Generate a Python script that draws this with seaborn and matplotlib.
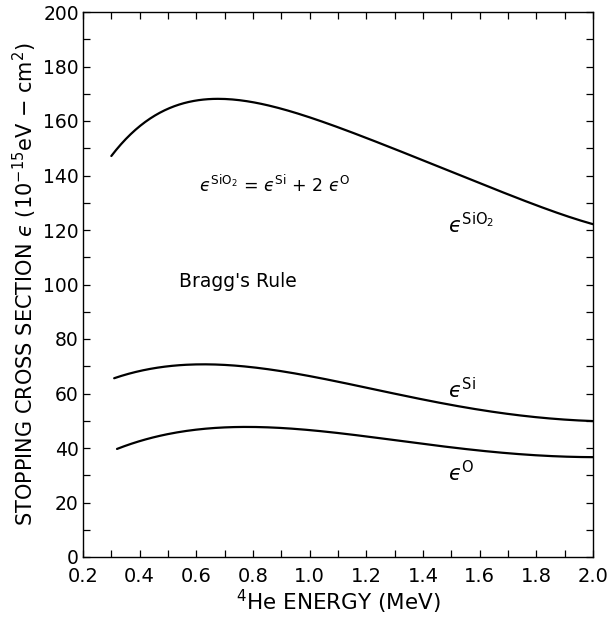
import numpy as np
import pandas as pd
import matplotlib
matplotlib.use("Agg")
import matplotlib.pyplot as plt
from matplotlib.ticker import MultipleLocator, FormatStrFormatter
import seaborn as sns

# Stopping cross sections (energy in MeV, eps in 1e-15 eV cm^2)
energy_sio2 = [0.30, 0.37, 0.44, 0.54, 0.68, 0.84, 1.05, 1.27, 1.51, 1.74, 1.95, 2.00]
eps_sio2 = [147.0, 155.8, 160.7, 166.2, 168.0, 166.2, 159.5, 150.9, 141.1, 131.3, 123.9, 122.0]

energy_si = [0.31, 0.43, 0.62, 0.78, 1.04, 1.27, 1.51, 1.74, 1.95, 2.00]
eps_si = [65.3, 69.4, 70.8, 69.4, 65.5, 60.8, 55.9, 51.6, 50.1, 50.0]

energy_o = [0.32, 0.48, 0.66, 0.81, 1.05, 1.27, 1.51, 1.74, 1.95, 2.00]
eps_o = [39.6, 44.9, 47.1, 47.5, 46.6, 43.0, 40.0, 37.9, 36.7, 36.6]

EPS = "\u03f5"  # lunate epsilon
curve_labels = [rf"${EPS}^{{\mathrm{{SiO_2}}}}$", rf"${EPS}^{{\mathrm{{Si}}}}$", rf"${EPS}^{{\mathrm{{O}}}}$"]
label_pos = [(1.49, 122), (1.49, 61.5), (1.49, 31)]
fit_degree = {"SiO2": 5, "Si": 4, "O": 4}

sns.set_style("ticks")
plt.rcParams["font.family"] = ["DejaVu Sans"]
plt.rcParams["mathtext.fontset"] = "dejavusans"
for key in ["text.color", "axes.labelcolor", "xtick.color", "ytick.color", "axes.edgecolor"]:
    plt.rcParams[key] = "black"

frames = []
for name, xs, ys in [("SiO2", energy_sio2, eps_sio2), ("Si", energy_si, eps_si), ("O", energy_o, eps_o)]:
    frames.append(pd.DataFrame({"energy": xs, "eps": ys, "curve": name}))
df = pd.concat(frames, ignore_index=True)

fig = plt.figure(figsize=(6.09, 6.25), dpi=100)
ax = fig.add_axes([0.1363, 0.1088, 0.8374, 0.872])

# smooth each hand-read curve with a low order polynomial
for name, sub in df.groupby("curve", sort=False):
    x = sub["energy"].to_numpy()
    y = sub["eps"].to_numpy()
    xs = np.linspace(x[0], x[-1], 200)
    coef = np.polyfit(x, y, fit_degree[name])
    smooth = pd.DataFrame({"energy": xs, "eps": np.polyval(coef, xs)})
    sns.lineplot(data=smooth, x="energy", y="eps", color="black", linewidth=1.6,
                 ax=ax, sort=False)

ax.set_xlim(0.2, 2.0)
ax.set_ylim(0, 200)
ax.xaxis.set_major_locator(MultipleLocator(0.2))
ax.xaxis.set_minor_locator(MultipleLocator(0.1))
ax.yaxis.set_major_locator(MultipleLocator(20))
ax.yaxis.set_minor_locator(MultipleLocator(10))
ax.xaxis.set_major_formatter(FormatStrFormatter("%.1f"))
ax.tick_params(which="both", direction="in", top=True, right=True, length=5,
               width=0.9, labelsize=14)
ax.tick_params(axis="x", pad=7.5)
ax.tick_params(axis="y", pad=3, labelsize=13.5)
for sp in ax.spines.values():
    sp.set_linewidth(1.0)

ax.set_xlabel(r"$^{4}$He ENERGY (MeV)", fontsize=15.5, labelpad=1)
ax.set_ylabel(rf"STOPPING CROSS SECTION ${EPS}$ (10$^{{-15}}$eV $-$ cm$^{{2}}$)",
              fontsize=15, labelpad=3)

for lab, (lx, ly) in zip(curve_labels, label_pos):
    ax.text(lx, ly, lab, fontsize=15, ha="left", va="center")

formula = (rf"${EPS}^{{\mathrm{{SiO_2}}}}$" + " = " + rf"${EPS}^{{\mathrm{{Si}}}}$"
           + " + 2 " + rf"${EPS}^{{\mathrm{{O}}}}$")
ax.text(0.61, 136.5, formula, fontsize=12.5, ha="left", va="center")
ax.text(0.54, 101, "Bragg's Rule", fontsize=13.5, ha="left", va="center")

fig.savefig("out.png", dpi=100)
